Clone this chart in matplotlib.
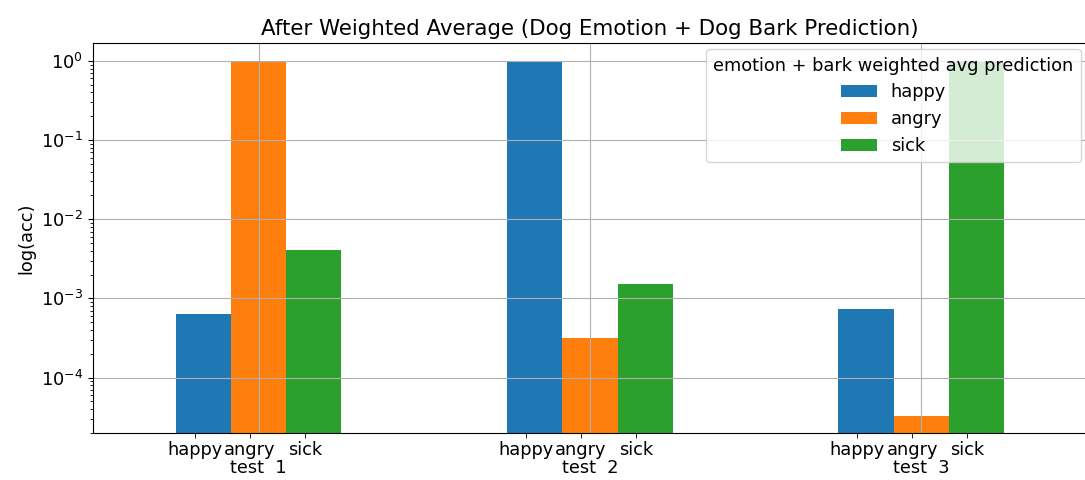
import numpy as np
import matplotlib
matplotlib.use("Agg")
import matplotlib.pyplot as plt

tests = ["test  1", "test  2", "test  3"]
emotions = ["happy", "angry", "sick"]
happy = [6.3e-4, 0.999, 7.3e-4]
angry = [0.999, 3.2e-4, 3.3e-5]
sick = [4.1e-3, 1.5e-3, 0.998]
series = [happy, angry, sick]
colors = ["#1f77b4", "#ff7f0e", "#2ca02c"]

plt.rcParams["font.size"] = 12.8

fig = plt.figure(figsize=(10.85, 4.8), dpi=100)
ax = fig.add_axes([0.0857, 0.098, 0.9161, 0.812])

x = np.arange(len(tests))
w = 0.5 / len(series)
for k, (name, vals) in enumerate(zip(emotions, series)):
    ax.bar(x + (k - 1) * w, vals, width=w, color=colors[k], label=name)

ax.set_yscale("log")
ax.set_ylim(10 ** -4.70, 10 ** 0.224)
ax.set_xlim(-0.5, 2.5)

# group labels on major ticks (pushed down a line), emotion names on minor ticks
ax.set_xticks(x)
ax.set_xticklabels(tests)
ax.tick_params(axis="x", which="major", length=0, pad=19)
minor_pos = np.concatenate([xi + np.array([-0.193, -0.027, 0.139]) for xi in x])
ax.set_xticks(minor_pos, minor=True)
ax.set_xticklabels(emotions * len(tests), minor=True)
ax.tick_params(axis="x", which="minor", length=3.5, pad=2.5)

ax.grid(True, which="major")
ax.set_ylabel("log(acc)")
ax.set_title("After Weighted Average (Dog Emotion + Dog Bark Prediction)")
ax.legend(title="emotion + bark weighted avg prediction", loc="upper right",
          title_fontsize=12.8, borderaxespad=0.35)

fig.savefig("out.png", dpi=100)
